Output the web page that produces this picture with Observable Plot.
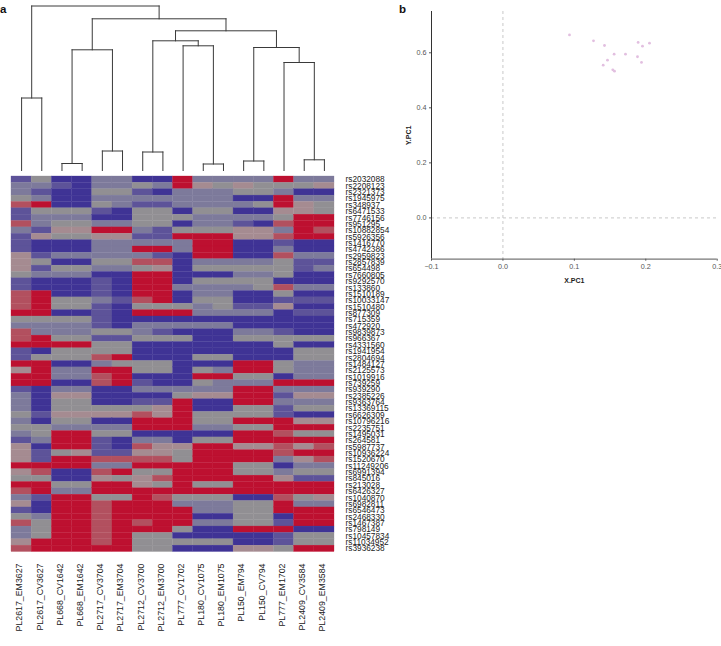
<!DOCTYPE html>
<html><head><meta charset="utf-8">
<script src="https://cdn.jsdelivr.net/npm/d3@7"></script>
<script src="https://cdn.jsdelivr.net/npm/@observablehq/plot@0.6"></script>
<style>
html,body{margin:0;padding:0;background:#fff;font-family:"Liberation Sans",Arial,sans-serif}
#root{position:relative;width:721px;height:646px;overflow:hidden}
#root svg{position:absolute;overflow:hidden;background:transparent}
.tag{position:absolute;font-weight:bold;font-size:11.5px;line-height:12px;color:#111}
</style></head><body><div id="root"></div>
<script>
const samples = ["PL2617_EM3627","PL2617_CV3627","PL668_CV1642","PL668_EM1642","PL2717_CV3704","PL2717_EM3704","PL2712_CV3700","PL2712_EM3700","PL777_CV1702","PL180_CV1075","PL180_EM1075","PL150_EM794","PL150_CV794","PL777_EM1702","PL2409_CV3584","PL2409_EM3584"];
const snps = ["rs2032088","rs2208123","rs2321373","rs1945975","rs348937","rs6471533","rs7746156","rs951295","rs10882854","rs5926356","rs1416770","rs4742386","rs2959823","rs2857839","rs654498","rs7660805","rs9292570","rs133860","rs1510189","rs10033147","rs1510480","rs877309","rs715359","rs472920","rs9839873","rs966367","rs4331560","rs1941954","rs2804694","rs1484127","rs2125573","rs1019916","rs739259","rs939290","rs2385226","rs9363764","rs13369115","rs6626309","rs10796216","rs2235751","rs1495031","rs264581","rs5987737","rs10936224","rs1520670","rs11249206","rs6991394","rs845016","rs213028","rs6426327","rs1040870","rs6982811","rs6546473","rs2468330","rs1467387","rs798149","rs10457834","rs11034952","rs3936238"];
// genotype level per SNP row, per sample column (0 = blue, 3 = grey, 6 = red)
const levels = [
[1,3,0,0,2,2,0,0,6,2,2,2,2,6,2,2],
[2,2,1,0,2,2,3,2,6,4,3,4,3,3,3,4],
[2,1,0,0,3,3,1,0,2,2,2,3,3,2,0,0],
[3,2,0,0,2,2,2,2,2,2,2,0,0,6,2,2],
[5,6,0,0,3,2,1,1,2,2,2,2,3,6,4,3],
[1,3,3,3,1,0,3,3,0,3,3,0,0,4,4,3],
[1,2,2,2,0,0,3,3,3,2,2,2,2,3,6,6],
[5,2,3,3,2,2,3,3,0,2,2,1,0,5,6,6],
[2,1,4,4,6,6,2,1,3,3,3,4,4,2,6,5],
[1,4,3,3,4,4,1,1,6,6,6,4,4,5,6,6],
[1,0,0,0,2,2,2,2,2,6,6,0,0,1,0,0],
[1,0,0,0,2,2,6,6,2,6,6,0,0,2,0,0],
[4,1,2,2,2,2,2,1,0,6,6,0,0,5,2,2],
[4,3,0,0,3,3,5,5,0,2,2,2,2,3,1,1],
[4,1,3,3,2,2,3,4,0,3,3,3,3,3,1,2],
[3,2,2,2,0,0,6,6,0,0,0,2,2,3,0,0],
[1,0,0,0,1,0,6,6,0,3,3,3,3,0,0,0],
[1,0,0,0,1,0,6,6,2,2,2,2,3,5,2,2],
[5,6,0,0,1,0,6,6,0,2,2,0,0,3,0,0],
[5,6,3,3,2,1,5,6,0,3,3,0,0,1,1,1],
[5,6,3,3,1,0,3,3,3,2,3,1,1,4,0,0],
[6,6,0,0,1,0,6,6,6,2,2,2,2,0,1,1],
[3,3,3,3,1,0,0,0,0,0,0,0,0,0,0,0],
[2,2,2,2,1,0,2,2,2,2,2,0,0,0,0,0],
[5,2,2,2,3,3,2,1,0,0,0,2,2,1,0,0],
[5,6,3,3,1,1,3,3,3,0,0,3,3,3,3,3],
[6,6,6,6,3,3,0,0,0,0,0,0,0,3,0,0],
[1,0,3,3,3,3,0,0,0,0,0,0,0,0,3,3],
[1,3,3,3,5,6,0,0,0,3,3,0,0,0,3,3],
[6,6,0,0,2,3,3,3,0,0,0,6,6,3,2,2],
[4,6,2,2,6,6,3,3,0,3,2,6,6,3,2,2],
[6,6,2,2,5,6,0,0,0,6,6,3,3,0,2,2],
[6,6,0,0,5,6,1,0,0,3,2,2,2,6,6,6],
[1,0,2,2,0,0,2,2,2,2,2,6,6,2,2,2],
[2,0,4,4,0,0,0,0,3,4,4,6,6,1,4,4],
[2,0,3,3,0,0,1,1,6,0,0,6,6,2,2,2],
[2,0,3,3,3,3,3,4,6,0,0,3,3,1,3,3],
[3,1,4,4,4,4,5,4,6,3,3,3,3,1,0,0],
[2,0,3,3,0,0,6,6,6,3,3,6,6,6,4,4],
[3,3,2,2,2,2,6,6,6,2,2,3,3,6,6,6],
[2,3,6,6,3,3,0,0,0,0,0,6,6,5,3,3],
[1,2,6,6,1,0,2,2,0,3,3,6,6,6,6,6],
[4,0,6,6,1,0,5,4,4,6,6,4,4,5,4,5],
[4,1,3,4,1,1,4,4,3,6,6,6,6,5,6,6],
[4,1,6,6,5,5,5,5,3,6,6,6,6,2,4,5],
[6,6,6,6,2,2,6,6,6,6,6,3,3,0,2,2],
[4,5,0,0,5,6,3,3,6,6,6,3,3,2,3,3],
[3,3,0,0,4,3,4,5,6,6,6,6,6,4,1,1],
[6,6,3,3,6,6,4,3,6,3,3,6,6,6,6,6],
[5,6,2,2,6,6,6,6,6,6,6,6,6,6,6,6],
[2,1,6,6,3,3,6,5,3,3,3,0,0,5,3,4],
[4,0,6,6,5,6,6,6,2,2,2,3,3,6,2,2],
[1,0,6,6,5,6,6,6,6,2,2,3,3,6,6,6],
[3,2,6,6,5,6,6,6,6,0,0,3,3,0,6,6],
[5,3,6,6,5,6,5,6,6,2,2,3,3,1,6,6],
[2,3,6,6,5,6,6,6,3,0,0,6,6,6,0,0],
[2,3,6,6,5,6,3,3,0,0,0,0,0,1,3,3],
[4,6,6,6,5,6,3,3,3,3,3,0,0,1,3,3],
[5,6,6,6,6,6,3,3,0,0,0,4,4,3,6,6]
];
const levelColours = ["#3f3395","#5d5399","#7d7a9b","#918f93","#a58b91","#b2505f","#bd1030"];

// dendrogram: [left child, right child, height]; child >= 16 means merge (child - 16)
const merges = [
 [0,1,72.5],[2,3,7],[4,5,19.5],[6,7,18.5],[9,10,6.5],[8,20,124.7],[19,21,129.7],
 [11,12,9.5],[14,15,10.7],[13,24,108],[23,25,123],[17,18,120.7],[22,26,139.7],
 [27,28,151.7],[16,29,164.5]
];
const dendroOrder = d3.range(16);
const nodes = dendroOrder.map(i => ({x:i,h:0}));
const links = [];
for (const [a,b,h] of merges) {
  const A = nodes[a], B = nodes[b];
  links.push({x1:A.x,y1:A.h,x2:A.x,y2:h},{x1:B.x,y1:B.h,x2:B.x,y2:h},{x1:A.x,y1:h,x2:B.x,y2:h});
  nodes.push({x:(A.x+B.x)/2,h});
}

const pcX = [0.0932,0.1268,0.1422,0.1557,0.1716,0.1464,0.1404,0.1538,0.1562,0.1893,0.1954,0.2052,0.1884,0.194];
const pcY = [0.665,0.6436,0.6265,0.595,0.595,0.5732,0.555,0.538,0.533,0.6375,0.624,0.635,0.5855,0.565];
const xTicks = [-0.1,0,0.1,0.2,0.3];
const yTicks = [0,0.2,0.4,0.6];

const root = document.getElementById("root");
const font = '"Liberation Sans",Arial,sans-serif';
function place(svg,l,t){svg.style.left=l+"px";svg.style.top=t+"px";root.appendChild(svg);}

// dendrogram
place(Plot.plot({
  width:345,height:175,marginLeft:11,marginRight:11,marginTop:0,marginBottom:5,
  x:{domain:[-0.5,15.5],axis:null},
  y:{domain:[0,170],axis:null},
  marks:[Plot.link(links,{x1:"x1",y1:"y1",x2:"x2",y2:"y2",stroke:"#3a3a3a",strokeWidth:1,strokeLinecap:"square"})]
}),0,0);

// heatmap
const heat = levels.flatMap((row,r)=>row.map((v,c)=>({s:samples[c],g:snps[r],v})));
place(Plot.plot({
  width:395,height:476,marginLeft:11,marginRight:61,marginTop:6,marginBottom:94.5,
  style:{fontFamily:font,background:"transparent"},
  x:{domain:samples,padding:0,round:false,axis:null},
  y:{domain:snps,padding:0,round:false,axis:null},
  color:{type:"linear",domain:d3.range(7),range:levelColours},
  marks:[
    Plot.cell(heat,{x:"s",y:"g",fill:"v",stroke:"v",strokeWidth:0.3}),
    Plot.axisX({anchor:"bottom",tickSize:0,tickPadding:11.5,tickRotate:-90,fontSize:8.8,fill:"#222",label:null,dx:-2}),
    Plot.axisY({anchor:"right",tickSize:0,tickPadding:11,fontSize:8.3,fill:"#222",label:null})
  ]
}),0,170);

// PCA scatter
place(Plot.plot({
  width:326,height:300,marginLeft:36,marginRight:4.3,marginTop:11,marginBottom:41.3,
  style:{fontFamily:font,background:"transparent"},
  x:{domain:[-0.1,0.3],axis:null},
  y:{domain:[-0.15,0.75],axis:null},
  marks:[
    Plot.ruleX([0],{stroke:"#c8c8c8",strokeDasharray:"3,3",strokeWidth:1}),
    Plot.ruleY([0],{stroke:"#c8c8c8",strokeDasharray:"3,3",strokeWidth:1}),
    Plot.ruleX([-0.1],{stroke:"#333",strokeWidth:1}),
    Plot.ruleY([-0.15],{stroke:"#777",strokeWidth:1.2}),
    Plot.dot(pcX.map((x,i)=>({x,y:pcY[i]})),{x:"x",y:"y",r:1.4,fill:"#e2bfe0",stroke:"none"}),
    Plot.axisX({anchor:"bottom",ticks:xTicks,tickSize:2,tickPadding:3,fontSize:7.2,fill:"#555",stroke:"#555",label:null,tickFormat:d3.format(".1f")}),
    Plot.axisY({anchor:"left",ticks:yTicks,tickSize:2,tickPadding:3,fontSize:7.2,fill:"#555",stroke:"#555",label:null,tickFormat:d3.format(".1f")}),
    Plot.text(["X.PC1"],{frameAnchor:"bottom",dy:24,fontSize:7,fill:"#222",fontWeight:600}),
    Plot.text(["Y.PC1"],{frameAnchor:"left",dx:-23,rotate:-90,textAnchor:"middle",fontSize:7,fill:"#222",fontWeight:600})
  ]
}),395,0);

for (const [t,l,tp] of [["a",0,3],["b",399,3]]) {
  const d=document.createElement("div");d.className="tag";d.textContent=t;d.style.left=l+"px";d.style.top=tp+"px";root.appendChild(d);
}
</script></body></html>
